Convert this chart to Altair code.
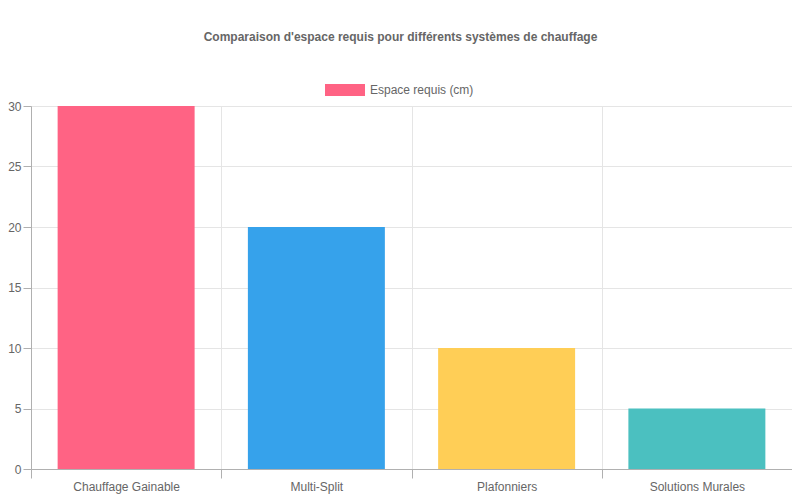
import altair as alt
import pandas as pd

systemes = ["Chauffage Gainable", "Multi-Split", "Plafonniers", "Solutions Murales"]
espace_cm = [30, 20, 10, 5]
couleurs = ["#ff6384", "#36a2eb", "#ffce56", "#4bc0c0"]
serie = "Espace requis (cm)"

df = pd.DataFrame({"systeme": systemes, "espace": espace_cm})

font = "Liberation Sans, Arial, Helvetica, sans-serif"

chart = alt.Chart(df).mark_bar(
    width=alt.RelativeBandSize(0.72)
).encode(
    x=alt.X("systeme:N", sort=systemes, title=None,
            scale=alt.Scale(paddingInner=0, paddingOuter=0),
            axis=alt.Axis(labelAngle=0, grid=True, bandPosition=0,
                          tickBand="extent", tickSize=9, labelPadding=3)),
    y=alt.Y("espace:Q", title=None,
            scale=alt.Scale(domain=[0, 30], nice=False),
            axis=alt.Axis(values=[0, 5, 10, 15, 20, 25, 30], tickSize=8, labelPadding=2)),
    color=alt.Color("systeme:N", sort=systemes,
                    scale=alt.Scale(domain=systemes, range=couleurs),
                    legend=alt.Legend(
                        title=None, values=[systemes[0]],
                        labelExpr=f"'{serie}'",
                        orient="none", legendX=294, legendY=-36,
                        symbolType="M-1,-0.3H1V0.3H-1Z", symbolSize=1600,
                        symbolStrokeWidth=0, labelOffset=5,
                        labelFontSize=12, labelColor="#666", labelFont=font)),
    tooltip=["systeme", "espace"],
).properties(
    width=761, height=363,
    autosize=alt.AutoSizeParams(type="none"),
    padding={"left": 23, "top": 98, "right": 0, "bottom": 25},
    title=alt.Title("Comparaison d'espace requis pour différents systèmes de chauffage",
                    fontSize=12, fontWeight="bold", color="#666", font=font,
                    anchor="middle", offset=26, dx=-11),
).configure_view(
    stroke="#e5e5e5"
).configure_axis(
    gridColor="#e5e5e5", domainColor="#b0b0b0", tickColor="#b0b0b0",
    labelColor="#666", labelFontSize=12, labelFont=font
)

chart.save("out.html", embed_options={"renderer": "svg", "actions": False})
